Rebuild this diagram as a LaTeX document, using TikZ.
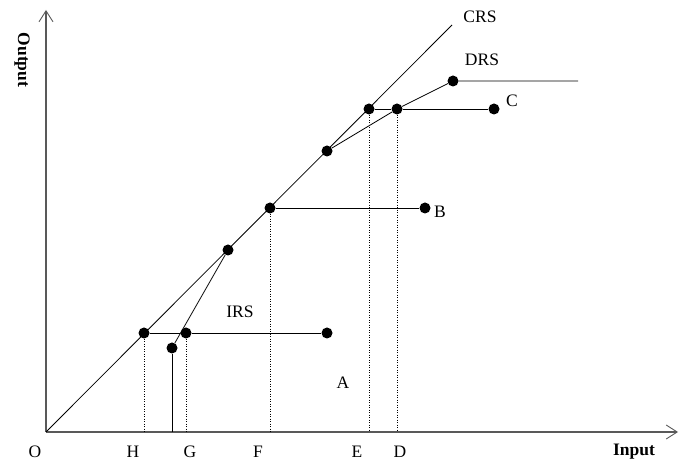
\documentclass[tikz,border=0pt]{standalone}
\usepackage{fontspec}
\setmainfont{Liberation Serif}
\usepackage{tikz}
\usetikzlibrary{arrows.meta, positioning}

\begin{document}
\begin{tikzpicture}[
    x=1pt, y=-1pt, font=\fontsize{17.5}{20}\selectfont,
    dot/.style={circle, fill=black, inner sep=0pt, minimum size=11pt},
    axis/.style={draw=black!65, line width=1.3pt, -{Straight Barb[length=11pt, width=14pt, line width=0.9pt]}},
    curve/.style={draw, line width=0.8pt},
    guide/.style={draw, dotted, line width=0.5pt},
    lbl/.style={inner sep=0pt}
]
\useasboundingbox (0,0) rectangle (686,462);

% axes
\coordinate (O) at (46,432);
\coordinate (ytip) at (46,10);
\coordinate (xtip) at (678,432);
\draw[axis] (O) -- (ytip);
\draw[axis] (O) -- (xtip);

% CRS ray
\coordinate (crsend) at (452,25);
\draw[curve] (O) -- (crsend);

% points
\node[dot] (h)    at (144,333) {};
\node[dot] (g)    at (186,333) {};
\node[dot] (irs0) at (172,348) {};
\node[dot] (a)    at (327,333) {};
\node[dot] (k)    at (228,250) {};
\node[dot] (f)    at (270,208) {};
\node[dot] (b)    at (425,208) {};
\node[dot] (m)    at (327,151) {};
\node[dot] (e)    at (369,109) {};
\node[dot] (d)    at (397,109) {};
\node[dot] (c)    at (494,109) {};
\node[dot] (drs)  at (453,81)  {};
\coordinate (drsend) at (578,81);

% technologies
\draw[curve] (irs0) -- (irs0 |- O);
\draw[curve] (irs0) -- (k);
\draw[curve] (h) -- (g) -- (a);
\draw[curve] (f) -- (b);
\draw[curve] (e) -- (d) -- (c);
\draw[curve] (m) -- (d) -- (drs) -- (drsend);

% projections
\foreach \p in {h,g,f,e,d}
    \draw[guide] (\p) -- (\p |- O);

% labels
\node[lbl] (lo)  at (35,452)  {O};
\node[lbl] (lh)  at (133,452) {H};
\node[lbl] (lg)  at (190,452) {G};
\node[lbl] (lf)  at (258,452) {F};
\node[lbl] (le)  at (357,452) {E};
\node[lbl] (ld)  at (400,452) {D};
\node[lbl, font=\fontsize{17.5}{20}\selectfont\bfseries] (lin) at (634,452) {Input};
\node[lbl, rotate=-90, font=\fontsize{17.5}{20}\selectfont\bfseries] (lout) at (22,60) {Output};
\node[lbl] (lcrs) at (480,17)  {CRS};
\node[lbl] (ldrs) at (482,60)  {DRS};
\node[lbl] (lirs) at (240,312) {IRS};
\node[lbl] (la)   at (343,383) {A};
\node[lbl] (lb)   at (440,212) {B};
\node[lbl] (lc)   at (512,101) {C};
\end{tikzpicture}
\end{document}
